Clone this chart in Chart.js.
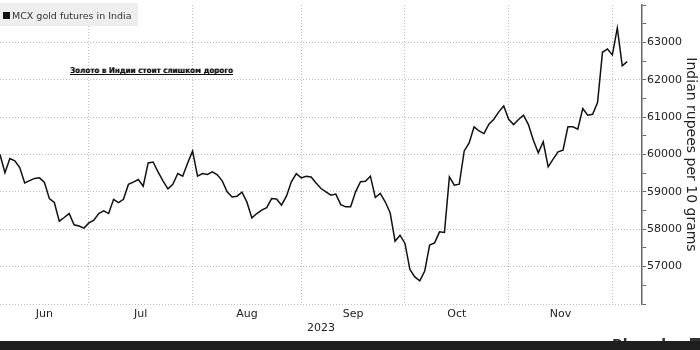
<!DOCTYPE html>
<html>
<head>
<meta charset="utf-8">
<title>MCX gold futures in India</title>
<script src="https://cdn.jsdelivr.net/npm/chart.js@4.4.0/dist/chart.umd.min.js"></script>
<style>
  body { margin: 0; background: #fff; }
  #line-canvas { display: block; }
</style>
</head>
<body>
<canvas id="line-canvas" width="700" height="350"></canvas>
<script>
// daily settle, trading days from early June 2023
var gold = [
  60000, 59510, 59890, 59830, 59650, 59240, 59300, 59360, 59375, 59250,
  58820, 58715, 58215, 58315, 58420, 58120, 58085, 58030, 58170, 58240,
  58420, 58490, 58420, 58800, 58710, 58800, 59200, 59260, 59330, 59150,
  59775, 59800, 59535, 59295, 59080, 59200, 59490, 59420, 59775, 60090,
  59420, 59490, 59465, 59535, 59455, 59295, 59000, 58865, 58885, 58990,
  58725, 58305, 58420, 58510, 58580, 58820, 58810, 58645, 58885, 59270,
  59490, 59375, 59420, 59400, 59240, 59090, 59000, 58910, 58940, 58660,
  58600, 58600, 59000, 59270, 59285, 59420, 58850, 58960, 58735, 58440,
  57680, 57840, 57620, 56925, 56725, 56620, 56880, 57575, 57635, 57930,
  57915, 59400, 59180, 59205, 60095, 60310, 60740, 60630, 60560, 60810,
  60945, 61140, 61300, 60940, 60800, 60935, 61050, 60800, 60380, 60045,
  60340, 59670, 59875, 60070, 60115, 60740, 60740, 60680, 61230, 61050,
  61075, 61390, 62735, 62825, 62665, 63385, 62375, 62485
];
var months = ["Jun", "Jul", "Aug", "Sep", "Oct", "Nov"];
// index of the first trading day of each month (Jul..Dec)
var monthStarts = [18, 39, 61, 82, 103, 124];
var yearLabel = "2023";
var seriesName = "MCX gold futures in India";
var yTitle = "Indian rupees per 10 grams";
var note = "Золото в Индии стоит слишком дорого";

var points = [];
for (var i = 0; i < gold.length; i++) {
  points.push({ x: i, y: gold[i] });
}

// month labels sit in the middle of each month span
var labelTicks = [];
var prev = 0;
for (var m = 0; m < months.length; m++) {
  labelTicks.push({ value: (prev + monthStarts[m]) / 2, label: months[m] });
  prev = monthStarts[m];
}

var extras = {
  id: "extras",
  afterDraw: function(chart) {
    var ctx = chart.ctx;
    ctx.save();
    // legend box
    ctx.fillStyle = "#eeeeee";
    ctx.fillRect(0, 3, 138, 23);
    ctx.fillStyle = "#111";
    ctx.fillRect(3, 12, 7, 7);
    ctx.fillStyle = "#333";
    ctx.font = "9.5px 'DejaVu Sans'";
    ctx.textBaseline = "alphabetic";
    ctx.fillText(seriesName, 12, 19);

    // annotation
    ctx.font = "bold 10px 'DejaVu Sans Condensed'";
    var w = ctx.measureText(note).width;
    var size = 10 * 163 / w;
    ctx.font = "bold " + size.toFixed(2) + "px 'DejaVu Sans Condensed'";
    ctx.fillStyle = "#999";
    ctx.fillText(note, 70.8, 73.3);
    ctx.fillStyle = "#111";
    ctx.fillText(note, 70, 72.5);
    ctx.fillRect(70, 74, 163, 1);

    // footer
    ctx.font = "bold 14px 'DejaVu Sans'";
    ctx.fillStyle = "#333";
    ctx.fillText("Bloomberg", 612, 349);
    ctx.fillRect(690, 338, 10, 12);
    ctx.fillStyle = "#1e1e1e";
    ctx.fillRect(0, 341, 700, 9);
    ctx.restore();
  }
};

var ctx = document.getElementById("line-canvas");

var chartData = {
  datasets: [{
    label: seriesName,
    data: points,
    borderColor: "#111",
    borderWidth: 1.5,
    fill: false,
    tension: 0,
    pointRadius: 0
  }]
};

var options = {
  responsive: false,
  animation: false,
  layout: { padding: { top: 5, right: 0, bottom: 0, left: 0 } },
  plugins: {
    legend: { display: false },
    tooltip: { enabled: false }
  },
  scales: {
    x: {
      type: "linear",
      min: 0,
      max: 130,
      afterBuildTicks: function(scale) {
        var t = labelTicks.slice();
        for (var k = 0; k < monthStarts.length; k++) {
          t.push({ value: monthStarts[k], label: "" });
        }
        t.sort(function(a, b) { return a.value - b.value; });
        scale.ticks = t;
      },
      afterFit: function(scale) {
        scale.height = 46;
        scale.paddingLeft = 0;
        scale.paddingRight = 0;
      },
      ticks: {
        autoSkip: false,
        maxRotation: 0,
        padding: 4,
        color: "#222",
        font: { family: "'DejaVu Sans'", size: 11 },
        callback: function(value, index, ticks) {
          return ticks[index].label;
        }
      },
      grid: {
        drawTicks: false,
        lineWidth: 1,
        color: function(c) {
          return c.tick && c.tick.label === "" ? "#bdbdbd" : "rgba(0,0,0,0)";
        }
      },
      border: { display: false, dash: [1, 2] },
      title: {
        display: true,
        text: yearLabel,
        color: "#222",
        font: { family: "'DejaVu Sans'", size: 11 },
        padding: { top: 0, bottom: 15 }
      }
    },
    y: {
      position: "right",
      min: 56000,
      max: 64000,
      afterFit: function(scale) {
        scale.width = 58;
        scale.paddingTop = 0;
        scale.paddingBottom = 0;
      },
      ticks: {
        stepSize: 500,
        padding: 1,
        color: "#222",
        font: { family: "'DejaVu Sans'", size: 11 },
        callback: function(v) {
          if (v % 1000 !== 0 || v <= 56000 || v >= 64000) return "";
          return String(v);
        }
      },
      grid: {
        tickLength: 4,
        tickColor: "#666",
        lineWidth: 1,
        color: function(c) {
          return c.tick && c.tick.value % 1000 === 0 && c.tick.value < 64000 ? "#bdbdbd" : "rgba(0,0,0,0)";
        }
      },
      border: { display: true, color: "#666", width: 1.5, dash: [1, 2] },
      title: {
        display: true,
        text: yTitle,
        color: "#222",
        font: { family: "'DejaVu Sans'", size: 14 },
        padding: { top: 1, bottom: 0 }
      }
    }
  }
};

var chart = new Chart(ctx, {
  type: "line",
  data: chartData,
  options: options,
  plugins: [extras]
});
</script>
</body>
</html>
